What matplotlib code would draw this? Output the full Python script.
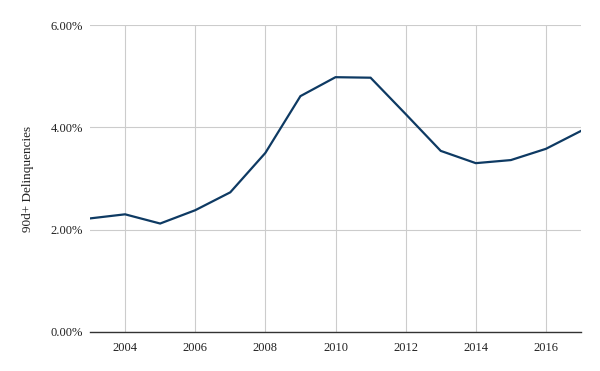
import matplotlib
matplotlib.use("Agg")
import matplotlib.pyplot as plt
from matplotlib.ticker import FuncFormatter

years = list(range(2003, 2018))
delinquency = [2.22, 2.30, 2.12, 2.38, 2.73, 3.50, 4.61, 4.98, 4.97, 4.26,
               3.54, 3.30, 3.36, 3.58, 3.93]
xticks = [2004, 2006, 2008, 2010, 2012, 2014, 2016]
yticks = [0, 2, 4, 6]

plt.rcParams['font.family'] = ['Liberation Serif', 'DejaVu Serif']

fig = plt.figure(figsize=(6, 3.71), dpi=100)
ax = fig.add_axes([90/600, 1 - 332/371, 491/600, 307/371])

ax.plot(years, delinquency, color='#0e3a63', linewidth=1.6, solid_joinstyle='miter')

ax.set_xlim(2003, 2017)
ax.set_ylim(0, 6)
ax.set_xticks(xticks)
ax.set_yticks(yticks)
ax.yaxis.set_major_formatter(FuncFormatter(lambda v, p: '%.2f%%' % v))
ax.grid(True, color='#cccccc', linewidth=0.8)
ax.set_axisbelow(True)

for side in ['top', 'right', 'left']:
    ax.spines[side].set_visible(False)
ax.spines['bottom'].set_color('#333333')
ax.spines['bottom'].set_linewidth(1.0)
ax.tick_params(length=0, labelsize=9, colors='#222222')
ax.tick_params(axis='x', pad=7)
ax.tick_params(axis='y', pad=5)

ax.set_ylabel('90d+ Delinquencies', fontsize=9.5, color='#222222', labelpad=12)

fig.savefig('out.png', dpi=100)
